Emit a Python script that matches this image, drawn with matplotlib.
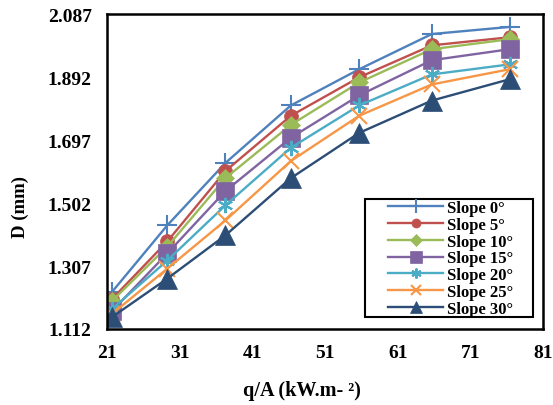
import numpy as np
import matplotlib
matplotlib.use('Agg')
import matplotlib.pyplot as plt
from matplotlib.patches import Rectangle

plt.rcParams['font.family'] = ['Liberation Serif', 'DejaVu Serif']
plt.rcParams['font.weight'] = 'bold'

# heat flux (x) and bubble diameter D (mm) for each slope
q_flux = [21.7, 29.3, 37.3, 46.3, 55.7, 65.7, 76.4]
d_slope0 = [1.227, 1.433, 1.626, 1.804, 1.916, 2.025, 2.047]
d_slope5 = [1.205, 1.383, 1.601, 1.772, 1.891, 1.990, 2.015]
d_slope10 = [1.199, 1.367, 1.579, 1.744, 1.875, 1.978, 2.009]
d_slope15 = [1.168, 1.346, 1.539, 1.704, 1.835, 1.944, 1.978]
d_slope20 = [1.174, 1.324, 1.495, 1.673, 1.804, 1.900, 1.931]
d_slope25 = [1.159, 1.299, 1.448, 1.632, 1.772, 1.869, 1.916]
d_slope30 = [1.149, 1.268, 1.402, 1.579, 1.719, 1.819, 1.885]

labels = ['Slope 0°', 'Slope 5°', 'Slope 10°', 'Slope 15°',
          'Slope 20°', 'Slope 25°', 'Slope 30°']
series = [d_slope0, d_slope5, d_slope10, d_slope15, d_slope20, d_slope25, d_slope30]
colors = ['#4F81BD', '#C0504D', '#9BBB59', '#8064A2', '#4BACC6', '#F79646', '#2C4D75']
markers = ['+', 'o', 'D', 's', (6, 2, 0), 'x', '^']
msizes = [15, 10, 9, 13, 11, 12, 14]

fig = plt.figure(figsize=(5.53, 4.06), dpi=100)
ax = fig.add_axes([107 / 553, 1 - 330 / 406, 436 / 553, 315 / 406])

for d, lab, c, m, ms in zip(series, labels, colors, markers, msizes):
    ax.plot(q_flux, d, color=c, marker=m, markersize=ms, linewidth=1.7,
            markeredgewidth=1.5 if m in ['+', 'x', (6, 2, 0)] else 0.5,
            markeredgecolor=c, label=lab)

ax.set_xlim(21, 81)
ax.set_ylim(1.112, 2.087)
ax.set_xticks(np.arange(21, 82, 10))
ax.set_yticks([1.112, 1.307, 1.502, 1.697, 1.892, 2.087])
ax.set_yticklabels(['1.112', '1.307', '1.502', '1.697', '1.892', '2.087'])
ax.tick_params(length=0, labelsize=14)
ax.tick_params(axis='y', pad=11)
ax.tick_params(axis='x', pad=11)
for sp in ax.spines.values():
    sp.set_linewidth(1.8)
    sp.set_color('black')

ax.set_ylabel('D (mm)', fontsize=13.5, fontweight='bold')
ax.set_xlabel('q/A (kW.m- ²)', fontsize=14.5, fontweight='bold')
ax.yaxis.set_label_coords((29 - 107) / 436, 0.39)
ax.xaxis.set_label_coords((302 - 107) / 436, -0.162)

# legend frame is wider than its content in the original
ax.add_patch(Rectangle((0.592, 0.038), 0.385, 0.375, transform=ax.transAxes,
                       facecolor='white', edgecolor='black', linewidth=1.5,
                       zorder=4))
leg = ax.legend(loc='upper left', bbox_to_anchor=(0.645, 0.41),
                fontsize=12, handlelength=3.3, handletextpad=0.25,
                labelspacing=0.05, borderpad=0, borderaxespad=0,
                markerscale=0.65, frameon=False)
leg.set_zorder(5)

fig.savefig('out.png', dpi=100)
